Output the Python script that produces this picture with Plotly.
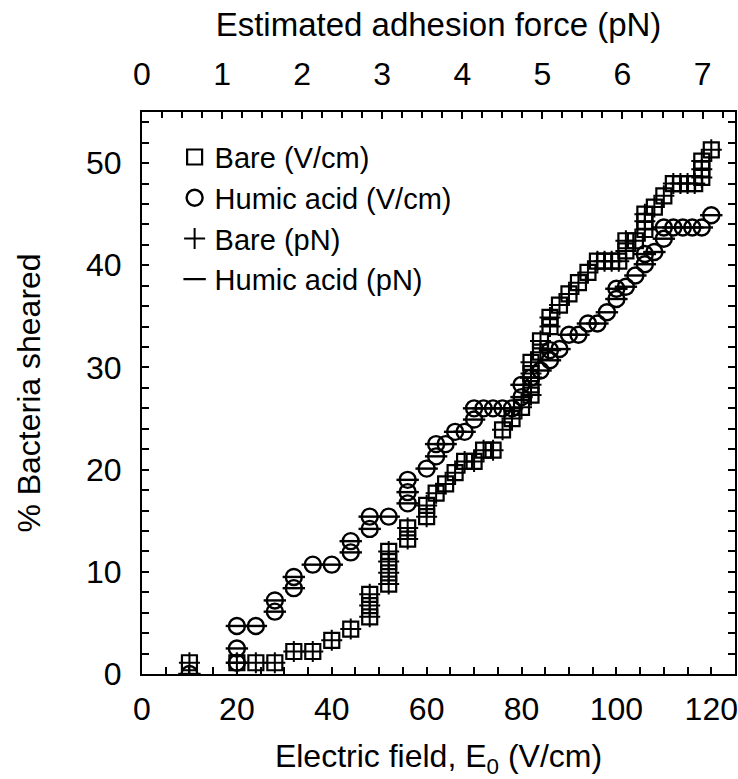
import plotly.graph_objects as go

# ---- data ----
# Bare surface: electric field (V/cm) and % bacteria sheared
bare_field = [10, 20, 24, 28, 32, 36, 40, 44, 48, 48, 48,
              52, 52, 52, 52, 56, 56, 60, 60, 62, 64, 66, 68, 70, 72, 74,
              76, 78, 80, 82, 82, 82, 82, 84, 84, 86, 86, 88, 90, 92, 94,
              96, 97.5, 99, 100.5, 102, 102, 104, 106, 106, 106, 108, 110,
              112, 113.5, 115, 116.5, 118, 118, 118, 120]
bare_pct = [1.1, 1.1, 1.1, 1.1, 2.2, 2.2, 3.3, 4.4, 5.6, 6.7, 7.8,
            8.8, 9.9, 11.0, 12.0, 13.2, 14.3, 15.4, 16.5, 17.7, 18.6, 19.7, 20.8, 20.8, 21.9, 21.9,
            23.9, 25.0, 26.1, 27.3, 28.3, 29.4, 30.5, 31.5, 32.6, 34.0, 34.9, 36.1, 37.2, 38.3, 39.3,
            40.4, 40.4, 40.4, 40.4, 41.4, 42.4, 42.4, 43.5, 44.3, 45.0, 45.7, 46.8,
            48.0, 48.0, 48.0, 48.0, 48.6, 49.4, 50.2, 51.3]

# Humic acid coated surface
humic_field = [10, 20, 20, 20, 24, 28, 28, 32, 32, 36, 40, 44, 44, 48, 48, 52,
               56, 56, 56, 60, 62, 62, 64, 66, 68, 70, 70, 72, 74, 76, 78,
               80, 80, 82, 84, 86, 86, 88, 90, 92, 94, 96, 98, 100, 100, 102,
               104, 106, 106, 108, 110, 110, 112, 114, 116, 118, 120]
humic_pct = [0.0, 1.1, 2.5, 4.7, 4.7, 6.1, 7.2, 8.4, 9.5, 10.7, 10.7, 11.9, 13.0, 14.2, 15.4, 15.4,
             16.7, 17.8, 19.0, 20.1, 21.3, 22.5, 22.5, 23.7, 23.7, 24.9, 26.0, 26.0, 26.0, 26.0, 26.0,
             27.1, 28.3, 29.0, 29.7, 30.7, 31.7, 31.8, 33.2, 33.2, 34.3, 34.3, 35.4, 36.7, 37.7, 37.9,
             39.0, 40.1, 41.1, 41.3, 42.6, 43.7, 43.7, 43.7, 43.7, 43.7, 44.9]

# conversion of field to estimated adhesion force (pN per V/cm), from the two axes
PN_PER_VCM = 1 / 16.88
bare_force = [e * PN_PER_VCM for e in bare_field]
humic_force = [e * PN_PER_VCM for e in humic_field]

x_ticks = [0, 20, 40, 60, 80, 100, 120]
top_ticks = [0, 1, 2, 3, 4, 5, 6, 7]
y_ticks = [0, 10, 20, 30, 40, 50]

FONT = "Liberation Sans, Arial, sans-serif"
FS = 32
MS = 15

fig = go.Figure()
fig.add_trace(go.Scatter(x=bare_field, y=bare_pct, mode="markers", name="Bare (V/cm)",
                         marker=dict(symbol="square-open", size=MS, color="black",
                                     line=dict(width=2.2, color="black"))))
fig.add_trace(go.Scatter(x=humic_field, y=humic_pct, mode="markers", name="Humic acid (V/cm)",
                         marker=dict(symbol="circle-open", size=MS + 1, color="black",
                                     line=dict(width=2.4, color="black"))))
fig.add_trace(go.Scatter(x=bare_force, y=bare_pct, mode="markers", name="Bare (pN)", xaxis="x2",
                         marker=dict(symbol="cross-thin-open", size=MS, color="black",
                                     line=dict(width=2, color="black"))))
fig.add_trace(go.Scatter(x=humic_force, y=humic_pct, mode="markers", name="Humic acid (pN)", xaxis="x2",
                         marker=dict(symbol="line-ew-open", size=MS + 1, color="black",
                                     line=dict(width=2.4, color="black"))))

axis_common = dict(showgrid=False, zeroline=False, showline=True, linecolor="black", linewidth=2,
                   ticks="inside", ticklen=7, tickwidth=1.5, tickcolor="black",
                   tickfont=dict(family=FONT, size=FS, color="black"))

fig.update_layout(
    width=738, height=779,
    margin=dict(l=142, r=3, t=112, b=105),
    paper_bgcolor="white", plot_bgcolor="white",
    font=dict(family=FONT, size=FS, color="black"),
    showlegend=True,
    legend=dict(x=0.055, y=0.965, xanchor="left", yanchor="top", bgcolor="rgba(0,0,0,0)",
                font=dict(family=FONT, size=29, color="black"), tracegroupgap=0),
    xaxis=dict(range=[0, 125], tickvals=x_ticks, ticklabelstandoff=6,
               minor=dict(dtick=5, ticks="inside", ticklen=7, tickwidth=1.5, tickcolor="black"),
               title=dict(text="Electric field, E<sub>0</sub> (V/cm)",
                          font=dict(family=FONT, size=FS, color="black"), standoff=26),
               automargin=False, **axis_common),
    xaxis2=dict(range=[0, 125 * PN_PER_VCM], overlaying="x", side="top", anchor="y",
                tickvals=top_ticks, ticklabelstandoff=12,
                minor=dict(dtick=0.25, ticks="inside", ticklen=6, tickwidth=1.5, tickcolor="black"),
                title=dict(text="Estimated adhesion force (pN)",
                           font=dict(family=FONT, size=33, color="black"), standoff=10),
                automargin=False, **axis_common),
    yaxis=dict(range=[0, 55], tickvals=y_ticks, mirror="ticks", ticklabelstandoff=12,
               minor=dict(dtick=2, ticks="inside", ticklen=7, tickwidth=1.5, tickcolor="black"),
               title=dict(text="% Bacteria sheared",
                          font=dict(family=FONT, size=FS, color="black"), standoff=36),
               automargin=False, **axis_common),
)

fig.write_html("out.html")
